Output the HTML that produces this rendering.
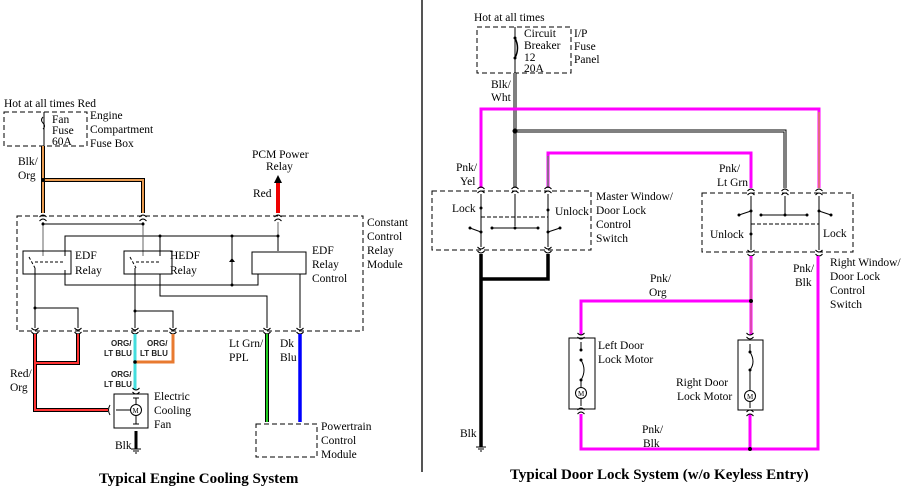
<!DOCTYPE html>
<html><head><meta charset="utf-8"><style>
html,body{margin:0;padding:0;background:#fff;}
svg{display:block;}
text{font-family:"Liberation Serif",serif;font-size:11.5px;fill:#000;}
.s{font-family:"Liberation Sans",sans-serif;font-size:8px;font-weight:bold;fill:#222;}
.t{font-size:15px;font-weight:bold;}
.d{fill:none;stroke:#000;stroke-width:1;stroke-dasharray:5,3;}
.l{fill:none;stroke:#000;stroke-width:1;}
.g{fill:none;stroke:#666;stroke-width:1;}
</style></head><body>
<svg width="910" height="491" viewBox="0 0 910 491" xmlns="http://www.w3.org/2000/svg">
<defs>
<g id="c"><path d="M-3.5 -1 q3.5 -4 7 0 M-3.5 3 q3.5 -4 7 0" fill="none" stroke="#000" stroke-width="1"/></g>
<g id="cu"><path d="M-3.5 1 q3.5 4 7 0 M-3.5 -3 q3.5 4 7 0" fill="none" stroke="#000" stroke-width="1"/></g>
</defs>
<rect width="910" height="491" fill="#fff"/>
<line x1="422" y1="0" x2="422" y2="472" stroke="#555" stroke-width="2"/>

<!-- LEFT -->
<text x="4" y="107">Hot at all times  Red</text>
<rect class="d" x="4" y="112" width="83" height="34"/>
<line class="l" x1="44" y1="112" x2="44" y2="146"/>
<path d="M43 117 q-3 3 0 6 q3 3 0 6" fill="none" stroke="#000"/>
<text x="52" y="123">Fan</text><text x="52" y="134">Fuse</text><text x="52" y="145">60A</text>
<text x="90" y="119">Engine</text><text x="90" y="133">Compartment</text><text x="90" y="147">Fuse Box</text>
<text x="18" y="165">Blk/</text><text x="18" y="179">Org</text>
<path d="M43 146 V213 M43 180 H143 V213" fill="none" stroke="#000" stroke-width="4"/>
<path d="M43 146 V213 M43 180 H143 V213" fill="none" stroke="#e89a50" stroke-width="2"/>
<circle cx="43" cy="180" r="2"/>
<text x="252" y="158">PCM Power</text><text x="266" y="170">Relay</text>
<text x="253" y="197">Red</text>
<line x1="278" y1="213" x2="278" y2="183" stroke="#e00" stroke-width="4"/>
<path d="M274 183 L278 175 L282 183Z"/>
<rect class="d" x="17" y="216" width="346" height="115"/>
<text x="367" y="226">Constant</text><text x="367" y="240">Control</text><text x="367" y="254">Relay</text><text x="367" y="268">Module</text>
<use href="#c" x="43" y="218"/><use href="#c" x="143" y="218"/><use href="#c" x="278" y="218"/>
<path class="l" d="M43 224 H143 M65 256 V236 H278 V251 M65 270 V285 H258 V274 M160 256 V236 M160 274 V296 H267 V328 M300 274 V328 M232 236 V285"/>
<path class="g" d="M43 222 V256 M143 222 V256 M278 222 V236"/>
<circle cx="43" cy="224" r="1.5"/><circle cx="143" cy="224" r="1.5"/><circle cx="160" cy="236" r="1.5"/><circle cx="232" cy="236" r="1.5"/><circle cx="232" cy="285" r="1.5"/><circle cx="278" cy="236" r="1.5"/>
<path d="M229 262 H235 L232 258Z"/>
<rect class="l" x="23" y="251" width="48" height="23"/>
<rect class="l" x="124" y="251" width="48" height="23"/>
<rect class="l" x="252" y="252" width="54" height="22"/>
<path d="M29 257 L35 268 M35 262 H65 M130 257 L136 268 M136 262 H160" fill="none" stroke="#000" stroke-dasharray="3,2"/>
<text x="75" y="259">EDF</text><text x="75" y="274">Relay</text>
<text x="170" y="259">HEDF</text><text x="170" y="274">Relay</text>
<text x="312" y="254">EDF</text><text x="312" y="268">Relay</text><text x="312" y="282">Control</text>
<path class="l" d="M35 268 V328 M35 308 H78 V328 M135 268 V328 M135 311 H173 V328"/>
<circle cx="35" cy="308" r="1.5"/><circle cx="135" cy="311" r="1.5"/>
<use href="#cu" x="35" y="331"/><use href="#cu" x="78" y="331"/><use href="#cu" x="135" y="331"/><use href="#cu" x="173" y="331"/><use href="#cu" x="267" y="331"/><use href="#cu" x="300" y="331"/>
<path d="M35 334 V410 H108 M78 334 V363 H35" fill="none" stroke="#000" stroke-width="4"/>
<path d="M35 334 V410 H108 M78 334 V363 H35" fill="none" stroke="#f33" stroke-width="2"/>
<text x="10" y="377">Red/</text><text x="10" y="391">Org</text>
<path d="M173 334 V362 H135" fill="none" stroke="#e87a30" stroke-width="3"/>
<path d="M135 334 V390" fill="none" stroke="#4dd" stroke-width="3"/>
<circle cx="135" cy="362" r="1.8"/>
<text class="s" x="111" y="346">ORG/</text><text class="s" x="104" y="356">LT BLU</text>
<text class="s" x="147" y="346">ORG/</text><text class="s" x="140" y="356">LT BLU</text>
<text class="s" x="111" y="377">ORG/</text><text class="s" x="104" y="387">LT BLU</text>
<rect class="l" x="114" y="394" width="34" height="34"/>
<use href="#cu" x="136" y="391"/>
<circle cx="136" cy="410" r="5.5" fill="#fff" stroke="#000"/>
<text x="132.5" y="413" style="font-size:7px">M</text>
<path class="l" d="M136 398 V404 M136 416 V424 M130 410 H116 M133 398 H139 M133 424 H139"/>
<path d="M110 405 q-3 5 0 10" fill="none" stroke="#000"/>
<text x="154" y="400">Electric</text><text x="154" y="414">Cooling</text><text x="154" y="428">Fan</text>
<line x1="136" y1="431" x2="136" y2="449" stroke="#000" stroke-width="3"/>
<path class="l" d="M131 449 H141 M133 451 H139 M135 453 H137"/>
<text x="115" y="449">Blk</text>
<line x1="267" y1="334" x2="267" y2="422" stroke="#000" stroke-width="4"/>
<line x1="267" y1="334" x2="267" y2="422" stroke="#2c2" stroke-width="2"/>
<line x1="300" y1="334" x2="300" y2="422" stroke="#00f" stroke-width="3.5"/>
<text x="229" y="347">Lt Grn/</text><text x="229" y="361">PPL</text>
<text x="280" y="347">Dk</text><text x="280" y="361">Blu</text>
<rect class="d" x="256" y="424" width="61" height="33"/>
<text x="321" y="430">Powertrain</text><text x="321" y="444">Control</text><text x="321" y="458">Module</text>
<text class="t" x="99" y="483">Typical Engine Cooling System</text>

<!-- RIGHT -->
<text x="474" y="21">Hot at all times</text>
<rect class="d" x="477" y="27" width="94" height="46"/>
<line class="l" x1="515" y1="27" x2="515" y2="73"/>
<path d="M515 38 q5 10 0 20" fill="none" stroke="#000" stroke-width="1.5"/>
<circle cx="515" cy="38" r="1.5"/><circle cx="515" cy="58" r="1.5"/>
<text x="524" y="37">Circuit</text><text x="524" y="49">Breaker</text><text x="524" y="61">12</text><text x="524" y="72">20A</text>
<text x="574" y="37">I/P</text><text x="574" y="50">Fuse</text><text x="574" y="63">Panel</text>
<text x="491" y="88">Blk/</text><text x="491" y="101">Wht</text>
<path d="M515 73 V188 M515 131 H785 V188" fill="none" stroke="#000" stroke-width="3"/>
<path d="M515 73 V188 M515 131 H785 V188" fill="none" stroke="#fff" stroke-width="1"/>
<circle cx="515" cy="131" r="2.5"/>
<path d="M481 188 V109 H819 V188" fill="none" stroke="#f0f" stroke-width="3"/>
<line x1="819" y1="112" x2="819" y2="188" stroke="#cc0" stroke-width="1"/>
<path d="M548 188 V153 H751 V188" fill="none" stroke="#f0f" stroke-width="3"/>
<line x1="548" y1="156" x2="548" y2="188" stroke="#2c2" stroke-width="1"/>
<text x="456" y="171">Pnk/</text><text x="460" y="185">Yel</text>
<text x="719" y="172">Pnk/</text><text x="717" y="186">Lt Grn</text>
<rect class="d" x="432" y="191" width="159" height="59"/>
<use href="#c" x="481" y="190"/><use href="#c" x="515" y="190"/><use href="#c" x="548" y="190"/>
<use href="#cu" x="481" y="250"/><use href="#cu" x="548" y="250"/>
<path class="l" d="M481 194 V247 M515 194 V226 M548 194 V247 M492 228 H538 M470 228 L481 232 M548 232 L560 228"/>
<path d="M481 217 H548" fill="none" stroke="#000" stroke-dasharray="4,2"/>
<circle cx="481" cy="208" r="1.5"/><circle cx="548" cy="210" r="1.5"/><circle cx="492" cy="228" r="1.5"/><circle cx="515" cy="228" r="1.5"/><circle cx="538" cy="228" r="1.5"/><circle cx="481" cy="232" r="1.5"/><circle cx="548" cy="232" r="1.5"/><circle cx="560" cy="228" r="1.5"/><circle cx="470" cy="228" r="1.5"/>
<text x="452" y="212">Lock</text><text x="555" y="215">Unlock</text>
<text x="596" y="200">Master Window/</text><text x="596" y="214">Door Lock</text><text x="596" y="228">Control</text><text x="596" y="242">Switch</text>
<rect class="d" x="702" y="193" width="151" height="59"/>
<use href="#c" x="751" y="192"/><use href="#c" x="785" y="192"/><use href="#c" x="819" y="192"/>
<use href="#cu" x="751" y="253"/><use href="#cu" x="819" y="253"/>
<path class="l" d="M751 196 V250 M785 196 V215 M819 196 V250 M761 215 H807 M739 215 L751 211 M819 211 L831 215"/>
<path d="M751 224 H819" fill="none" stroke="#000" stroke-dasharray="4,2"/>
<circle cx="739" cy="215" r="1.5"/><circle cx="751" cy="211" r="1.5"/><circle cx="761" cy="215" r="1.5"/><circle cx="785" cy="215" r="1.5"/><circle cx="807" cy="215" r="1.5"/><circle cx="819" cy="211" r="1.5"/><circle cx="831" cy="215" r="1.5"/><circle cx="751" cy="234" r="1.5"/>
<text x="710" y="238">Unlock</text><text x="823" y="237">Lock</text>
<text x="830" y="266">Right Window/</text><text x="830" y="280">Door Lock</text><text x="830" y="294">Control</text><text x="830" y="308">Switch</text>
<text x="793" y="272">Pnk/</text><text x="795" y="286">Blk</text>
<path d="M481 254 V447 M481 279 H548 V254" fill="none" stroke="#000" stroke-width="3.5"/>
<path class="l" d="M476 447 H486 M478 449 H484 M480 451 H482"/>
<text x="460" y="437">Blk</text>
<path d="M751 256 V335 M751 301 H581 V335" fill="none" stroke="#f0f" stroke-width="3"/>
<line x1="751" y1="258" x2="751" y2="333" stroke="#b86" stroke-width="1"/>
<circle cx="751" cy="301" r="2"/>
<text x="650" y="282">Pnk/</text><text x="649" y="296">Org</text>
<path d="M581 414 V449 H818 V256 M750 414 V449" fill="none" stroke="#f0f" stroke-width="3"/>
<circle cx="750" cy="449" r="2"/>
<text x="642" y="433">Pnk/</text><text x="643" y="447">Blk</text>
<rect class="l" x="569" y="338" width="26" height="71"/>
<rect class="l" x="738" y="340" width="25" height="70"/>
<use href="#cu" x="581" y="336"/><use href="#c" x="581" y="411"/>
<use href="#cu" x="750" y="336"/><use href="#c" x="750" y="413"/>
<path class="l" d="M581 342 V350 M581 360 q6 10 0 20 M581 380 V389 M581 398 V406 M750 344 V352 M750 352 q6 10 0 18 M750 370 V392 M750 401 V408"/>
<circle cx="581" cy="350" r="1.5"/><circle cx="581" cy="360" r="1.5"/><circle cx="581" cy="380" r="1.5"/>
<circle cx="750" cy="352" r="1.5"/><circle cx="750" cy="370" r="1.5"/>
<circle cx="581" cy="393" r="5.5" fill="#fff" stroke="#000"/><text x="578" y="396" style="font-size:7px">M</text>
<circle cx="750" cy="396" r="5.5" fill="#fff" stroke="#000"/><text x="747" y="399" style="font-size:7px">M</text>
<text x="598" y="349">Left Door</text><text x="598" y="363">Lock Motor</text>
<text x="676" y="386">Right Door</text><text x="677" y="400">Lock Motor</text>
<text class="t" x="510" y="479">Typical Door Lock System (w/o Keyless Entry)</text>
</svg>
</body></html>
